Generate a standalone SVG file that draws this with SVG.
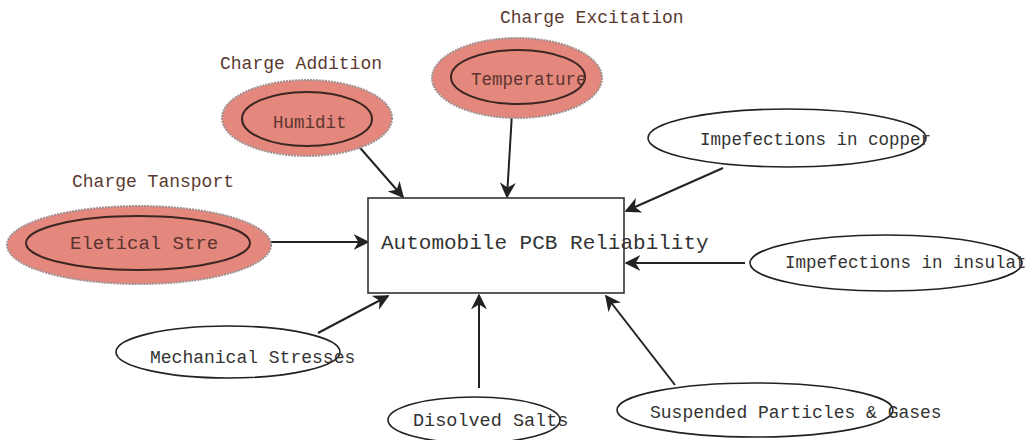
<svg xmlns="http://www.w3.org/2000/svg" width="1025" height="440" viewBox="0 0 1025 440">
  <style>
    .halo { fill: #e4877d; stroke: #a09090; stroke-width: 2; stroke-dasharray: 2 1; }
    .ring { fill: none; stroke: #3a2622; stroke-width: 2; }
    .oval { fill: #fff; stroke: #222; stroke-width: 1.6; }
    .txt { font-family: "Liberation Mono", "Courier New", monospace; fill: #333; }
    .hot { fill: #5a3530; }
    .cap { font-family: "Liberation Mono", "Courier New", monospace; fill: #5a3a30; font-size: 18px; }
    .box { fill: #fff; stroke: #333; stroke-width: 1.6; }
    .edge { stroke: #222; stroke-width: 2; fill: none; marker-end: url(#head); }
  </style>
  <defs>
    <marker id="head" viewBox="0 0 10 10" refX="9" refY="5" markerWidth="16" markerHeight="16" markerUnits="userSpaceOnUse" orient="auto">
      <path d="M0,0 L10,5 L0,10 L3,5 z" fill="#222"/>
    </marker>
    <clipPath id="clipTemp"><ellipse cx="518" cy="77" rx="67" ry="27"/></clipPath>
  </defs>

  <!-- connectors -->
  <g id="connectors">
    <line class="edge" x1="253" y1="242" x2="368" y2="242"/>
    <line class="edge" x1="355" y1="142" x2="403" y2="197"/>
    <line class="edge" x1="512" y1="113" x2="507" y2="197"/>
    <line class="edge" x1="723" y1="168" x2="626" y2="211"/>
    <line class="edge" x1="745" y1="263" x2="626" y2="263"/>
    <line class="edge" x1="318" y1="333" x2="388" y2="296"/>
    <line class="edge" x1="479" y1="388" x2="479" y2="295"/>
    <line class="edge" x1="675" y1="385" x2="606" y2="296"/>
  </g>

  <!-- central node -->
  <g id="pcb">
    <rect class="box" x="368" y="198" width="256" height="95"/>
    <text class="txt" x="381" y="249" font-size="21">Automobile PCB Reliability</text>
  </g>

  <!-- charge transport -->
  <g id="electrical">
    <text class="cap" x="72" y="187">Charge Tansport</text>
    <ellipse class="halo" cx="139" cy="245" rx="132" ry="39"/>
    <ellipse class="ring" cx="138" cy="243" rx="112" ry="27"/>
    <text class="txt hot" x="70" y="249" font-size="19">Eletical Stre</text>
  </g>

  <!-- charge addition -->
  <g id="humidity">
    <text class="cap" x="220" y="69">Charge Addition</text>
    <ellipse class="halo" cx="307" cy="118" rx="85" ry="38"/>
    <ellipse class="ring" cx="307" cy="119" rx="65" ry="27"/>
    <text class="txt hot" x="273" y="128" font-size="17.5">Humidit</text>
  </g>

  <!-- charge excitation -->
  <g id="temperature">
    <text class="cap" x="500" y="23">Charge Excitation</text>
    <ellipse class="halo" cx="517" cy="78" rx="85" ry="40"/>
    <ellipse class="ring" cx="518" cy="77" rx="67" ry="27"/>
    <text class="txt hot" x="471" y="85" font-size="17.5" clip-path="url(#clipTemp)">Temperature</text>
  </g>

  <g id="copper">
    <ellipse class="oval" cx="787" cy="138" rx="139" ry="29"/>
    <text class="txt" x="700" y="145" font-size="17.5">Impefections in copper</text>
  </g>

  <g id="insulation">
    <ellipse class="oval" cx="886" cy="263" rx="136" ry="28"/>
    <text class="txt" x="785" y="268" font-size="17.5">Impefections in insulat</text>
  </g>

  <g id="mechanical">
    <ellipse class="oval" cx="228" cy="352" rx="112" ry="26"/>
    <text class="txt" x="150" y="363" font-size="18">Mechanical Stresses</text>
  </g>

  <g id="salts">
    <ellipse class="oval" cx="474" cy="420" rx="86" ry="23"/>
    <text class="txt" x="413" y="426" font-size="18.5">Disolved Salts</text>
  </g>

  <g id="particles">
    <ellipse class="oval" cx="755" cy="410" rx="138" ry="27"/>
    <text class="txt" x="650" y="418" font-size="18">Suspended Particles &amp; Gases</text>
  </g>
</svg>
